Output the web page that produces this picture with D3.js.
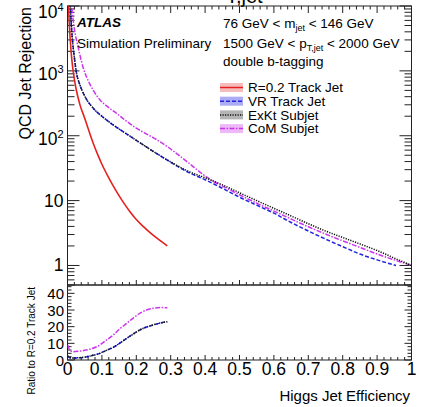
<!DOCTYPE html>
<html><head><meta charset="utf-8">
<script src="https://cdn.jsdelivr.net/npm/d3@7"></script>
<style>body{margin:0;background:#fff}svg{display:block}text{font-family:"Liberation Sans",Arial,sans-serif;fill:#000}</style>
</head><body><svg id="c" width="429" height="407"></svg>
<script>
// ---------- data ----------
const effR02 = [0.002,0.005,0.008,0.012,0.017,0.025,0.036,0.05,0.06,0.075,0.09,0.1,0.12,0.14,0.16,0.18,0.2,0.22,0.24,0.26,0.29];
const rejR02 = [14000,5500,3000,1600,950,525,302,186,129,76,48,36.3,22.4,14.5,9.8,6.9,5.1,4.0,3.2,2.63,2.0];

const effVR = [0.008,0.01,0.015,0.02,0.025,0.036,0.05,0.075,0.1,0.125,0.15,0.175,0.2,0.25,0.3,0.35,0.4,0.45,0.5,0.55,0.6,0.65,0.7,0.75,0.8,0.85,0.9,0.955];
const rejVR = [11000,6500,2750,1600,1000,610,410,265,200,157,127,104,85,57,39,27.5,21,15.5,11.3,8.5,6.4,4.6,3.4,2.55,1.95,1.5,1.22,1.0];

const effExKt = [0.008,0.01,0.015,0.02,0.025,0.036,0.05,0.075,0.1,0.125,0.15,0.175,0.2,0.25,0.3,0.35,0.4,0.45,0.5,0.55,0.6,0.65,0.7,0.75,0.8,0.85,0.9,0.95,1.0];
const rejExKt = [11000,6500,2750,1600,1000,610,410,265,200,157,127,104,85,57,39.5,28.5,22.5,17.5,13.2,10.0,7.6,5.8,4.4,3.4,2.7,2.15,1.7,1.3,1.0];

const effCoM = [0.01,0.012,0.02,0.028,0.035,0.046,0.06,0.075,0.094,0.12,0.143,0.17,0.2,0.225,0.25,0.29,0.347,0.405,0.43,0.45,0.5,0.55,0.6,0.65,0.7,0.75,0.8,0.85,0.9,0.95,1.0];
const rejCoM = [13000,10000,4400,2700,1860,1100,708,500,360,272,220,170,131,110,93,68,40,23,19,16.8,12.3,9.1,6.9,5.2,3.95,3.05,2.4,1.9,1.5,1.22,1.0];

const effRatio = [0.001,0.005,0.015,0.03,0.05,0.07,0.094,0.11,0.133,0.15,0.172,0.19,0.21,0.23,0.249,0.27,0.29];
const ratioVR   = [2.5,1.5,1.2,1.3,1.7,2.6,4.0,5.5,7.6,9.8,13,15.5,18,19.8,21,22.2,23];
const ratioExKt = [2.4,1.5,1.2,1.3,1.7,2.6,4.0,5.5,7.6,9.8,13,15.4,18,19.8,21.1,22.2,23];
const ratioCoM  = [9,6.5,5,5.2,5.8,6.8,9,11.5,15,18.3,22,25,28,30,31,31.5,31.3];

const xTicks = [0,0.1,0.2,0.3,0.4,0.5,0.6,0.7,0.8,0.9,1];
const xTickLabels = ["0","0.1","0.2","0.3","0.4","0.5","0.6","0.7","0.8","0.9","1"];
const yMainTicks = [1,10,100,1000,10000];
const yMainLabels = [["1",""],["10",""],["10","2"],["10","3"],["10","4"]];
const yRatioTicks = [0,10,20,30,40];
const legendLabels = ["R=0.2 Track Jet","VR Track Jet","ExKt Subjet","CoM Subjet"];

// ---------- layout ----------
const svg = d3.select("#c");
const L = 67.5, R = 411.5, T = 6, MB = 285, RB = 360;
const x = d3.scaleLinear().domain([0,1]).range([L,R]);
const y = d3.scaleLog().domain([0.5,10000]).range([MB,T]);
const yr = d3.scaleLinear().domain([0,45]).range([RB,MB]);

const styles = [
  {color:"#e3221f", dash:null, band:"rgba(230,60,60,0.35)"},
  {color:"#2323e0", dash:"4,2", band:"rgba(70,70,230,0.45)"},
  {color:"#111111", dash:"1.2,1.3", band:"rgba(90,90,90,0.45)"},
  {color:"#cc33ee", dash:"5,1.5,1.5,1.5", band:"rgba(210,80,235,0.4)"}
];

svg.append("defs").html(`<clipPath id="cm"><rect x="${L}" y="${T}" width="${R-L}" height="${MB-T}"/></clipPath>
<clipPath id="cr"><rect x="${L}" y="${MB}" width="${R-L}" height="${RB-MB}"/></clipPath>`);

// cut off title fragment at top
svg.append("text").attr("x",226).attr("y",2.5).attr("font-size",20).text("T,jet");

// ---------- ticks ----------
const tg = svg.append("g").attr("stroke","#222").attr("stroke-width",1);
function vline(x1,y1,y2){tg.append("line").attr("x1",x1).attr("x2",x1).attr("y1",y1).attr("y2",y2);}
function hline(y1,x1,x2){tg.append("line").attr("y1",y1).attr("y2",y1).attr("x1",x1).attr("x2",x2);}
const xMinor = d3.range(0,51).map(i=>i/50);
xMinor.forEach((v,i)=>{
  const major = i%5===0;
  const px = x(v);
  vline(px, T, T+(major?7:3.5));
  vline(px, MB, MB-(major?5:3));
  vline(px, RB, RB-(major?5:3));
});
const yMinorMain = [];
[0.1,1,10,100,1000].forEach(d=>{for(let k=1;k<=9;k++){const v=d*k; if(v>=0.5&&v<=10000) yMinorMain.push(v);}});
yMinorMain.push(10000);
yMinorMain.forEach(v=>{
  const major = yMainTicks.includes(v);
  const py = y(v);
  hline(py, L, L+(major?12:7));
  hline(py, R, R-(major?12:7));
});
d3.range(0,46,2).forEach(v=>{
  const major = v%10===0;
  const py = yr(v);
  hline(py, L, L+(major?7:4));
  hline(py, R, R-(major?7:4));
});

svg.append("rect").attr("x",L).attr("y",T).attr("width",R-L).attr("height",MB-T).attr("fill","none").attr("stroke","#222");
svg.append("rect").attr("x",L).attr("y",MB).attr("width",R-L).attr("height",RB-MB).attr("fill","none").attr("stroke","#222");

// ---------- tick labels ----------
xTicks.forEach((v,i)=>{
  svg.append("text").attr("x",x(v)).attr("y",375).attr("text-anchor","middle").attr("font-size",17.5).text(xTickLabels[i]);
});
yMainTicks.forEach((v,i)=>{
  const lab = yMainLabels[i];
  const t = svg.append("text").attr("text-anchor","end").attr("font-size",17.5)
    .attr("x",63.5).attr("y",Math.max(y(v)+(lab[1]?3:0),12)+6);
  t.append("tspan").text(lab[0]);
  if(lab[1]) t.append("tspan").attr("font-size",11).attr("dy",-7).text(lab[1]);
});
yRatioTicks.forEach(v=>{
  svg.append("text").attr("x",64).attr("y",yr(v)+5.5).attr("text-anchor","end").attr("font-size",15).text(v);
});

// ---------- axis titles ----------
svg.append("text").attr("x",410).attr("y",401).attr("text-anchor","end").attr("font-size",15).text("Higgs Jet Efficiency");
svg.append("text").attr("transform","translate(31,7) rotate(-90)").attr("text-anchor","end").attr("font-size",16).text("QCD Jet Rejection");
svg.append("text").attr("transform","translate(34.5,287) rotate(-90)").attr("text-anchor","end").attr("font-size",10).text("Ratio to R=0.2 Track Jet");

// ---------- curves ----------
const lineMain = d3.line().x(d=>x(d[0])).y(d=>y(d[1])).curve(d3.curveMonotoneX);
const lineRatio = d3.line().x(d=>x(d[0])).y(d=>yr(d[1])).curve(d3.curveMonotoneX);
const mainSets = [[effR02,rejR02],[effVR,rejVR],[effExKt,rejExKt],[effCoM,rejCoM]];
const gm = svg.append("g").attr("clip-path","url(#cm)");
[0,3,1,2].forEach(i=>{
  const [e,r] = mainSets[i];
  const p = gm.append("path").attr("d",lineMain(e.map((v,k)=>[v,r[k]])))
    .attr("fill","none").attr("stroke",styles[i].color).attr("stroke-width",i===0?1.6:1.5);
  if(styles[i].dash) p.attr("stroke-dasharray",styles[i].dash);
});
const ratioSets = [[1,ratioVR],[3,ratioCoM],[2,ratioExKt]];
const gr = svg.append("g").attr("clip-path","url(#cr)");
ratioSets.forEach(([i,vals])=>{
  gr.append("path").attr("d",lineRatio(effRatio.map((v,k)=>[v,vals[k]])))
    .attr("fill","none").attr("stroke",styles[i].color).attr("stroke-width",1.5)
    .attr("stroke-dasharray",styles[i].dash);
});

// ---------- texts ----------
svg.append("text").attr("x",77).attr("y",27).attr("font-size",13.5).attr("font-weight","bold").attr("font-style","italic").text("ATLAS");
svg.append("text").attr("x",77).attr("y",47.5).attr("font-size",13.5).text("Simulation Preliminary");
const t1 = svg.append("text").attr("x",223).attr("y",28).attr("font-size",13.5);
t1.append("tspan").text("76 GeV < m");
t1.append("tspan").attr("font-size",9).attr("dy",3).text("jet");
t1.append("tspan").attr("dy",-3).text(" < 146 GeV");
const t2 = svg.append("text").attr("x",223).attr("y",47.5).attr("font-size",13.5);
t2.append("tspan").text("1500 GeV < p");
t2.append("tspan").attr("font-size",9).attr("dy",3).text("T,jet");
t2.append("tspan").attr("dy",-3).text(" < 2000 GeV");
svg.append("text").attr("x",223).attr("y",66).attr("font-size",13.5).text("double b-tagging");

// ---------- legend ----------
legendLabels.forEach((lab,i)=>{
  const cy = 87.5 + i*13.7;
  svg.append("rect").attr("x",220).attr("y",cy-4.5).attr("width",23).attr("height",9).attr("fill",styles[i].band);
  const ln = svg.append("line").attr("x1",220).attr("x2",243).attr("y1",cy).attr("y2",cy)
    .attr("stroke",styles[i].color).attr("stroke-width",1.5);
  if(styles[i].dash) ln.attr("stroke-dasharray",styles[i].dash);
  svg.append("text").attr("x",248).attr("y",cy+4.8).attr("font-size",13.5).text(lab);
});
</script></body></html>
